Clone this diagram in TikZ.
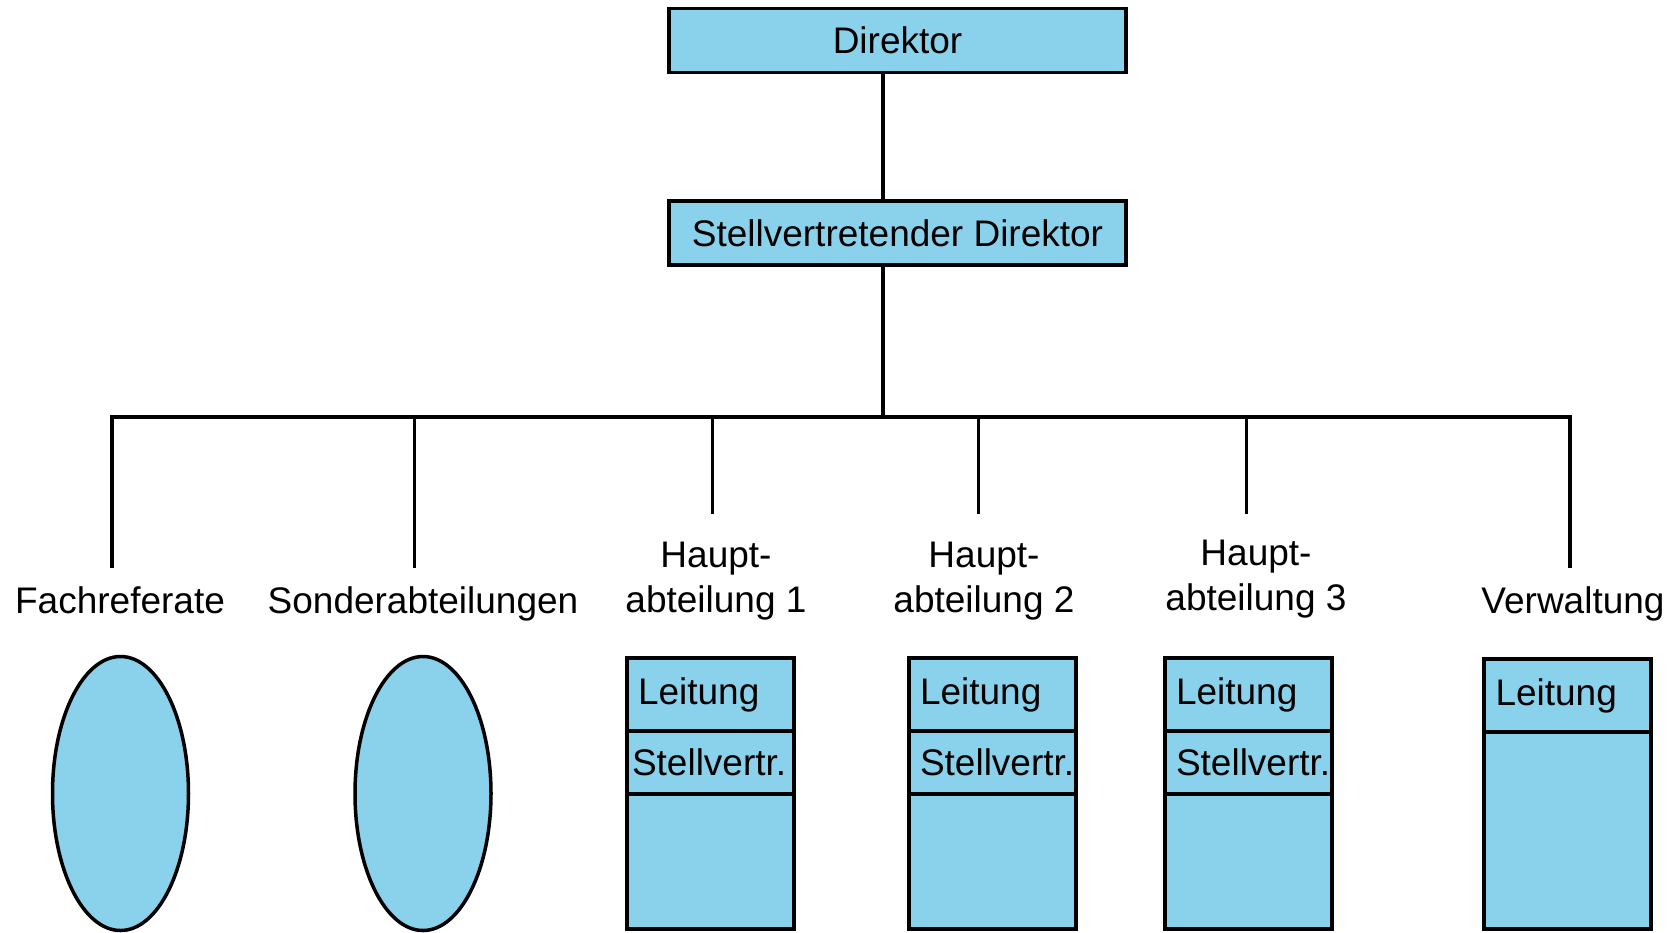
\documentclass[tikz,border=0pt]{standalone}
\usepackage{fontspec}
\setmainfont{Liberation Sans}
\usetikzlibrary{shapes.geometric}
\usetikzlibrary{positioning}
\definecolor{boxblue}{RGB}{138,210,235}
\tikzstyle{chart}=[x=1pt,y=-1pt,line width=3.5pt,font=\fontsize{37}{45}\selectfont]
\tikzstyle{topbox}=[draw,fill=boxblue,minimum width=457pt,minimum height=64pt,inner sep=0pt]
\tikzstyle{cell}=[draw,fill=boxblue,outer sep=0pt,inner ysep=0pt,align=left,minimum width=167pt]
\tikzstyle{unitoval}=[draw,fill=boxblue,ellipse,minimum width=136pt,minimum height=274pt,inner sep=0pt]
\tikzstyle{unitlabel}=[align=center,anchor=base,inner sep=0pt]
\newcommand{\deptbox}[4][11]{% [inset of Stellvertr.] name, x, y of top left corner
\pgfmathsetmacro{\tw}{167-2*#1}
  \node[cell,anchor=north west,minimum height=73pt,inner xsep=11pt,text width=145pt] (#2a) at (#3,#4) {Leitung};
  \node[cell,below=0pt of #2a,minimum height=63pt,inner xsep=#1pt,text width=\tw pt] (#2b) {Stellvertr.};
  \node[cell,below=0pt of #2b,minimum height=135pt] (#2c) {};
}

\begin{document}
\begin{tikzpicture}[chart]
  \useasboundingbox (0,0) rectangle (1675,932);
  % top of the chart
  \node[topbox] (dir) at (897.5,40.5) {Direktor};
  \node[topbox] (stv) at (897.5,233) {Stellvertretender Direktor};
  \coordinate (bus) at (883,417);
  \draw (dir.south -| bus) -- (stv.north -| bus);
  \draw (stv.south -| bus) -- (bus);
  % ends of the drops
  \coordinate (d1) at (112,568);
  \coordinate (d2) at (414.5,568);
  \coordinate (d3) at (712.5,514);
  \coordinate (d4) at (978.5,514);
  \coordinate (d5) at (1246.5,514);
  \coordinate (d6) at (1570,568);
  \draw (d1) -- (d1 |- bus) -- (d6 |- bus) -- (d6);
  \foreach \d in {d2,d3,d4,d5} {
    \draw (\d |- bus) -- (\d);
  }
  % unit names (base = last line)
  \node[unitlabel] (fach) at (120,613) {Fachreferate};
  \node[unitlabel] (sonder) at (423,613) {Sonderabteilungen};
  \node[unitlabel] (haupt1) at (716,612) {Haupt-\\abteilung 1};
  \node[unitlabel] (haupt2) at (984,612) {Haupt-\\abteilung 2};
  \node[unitlabel] (haupt3) at (1256,610) {Haupt-\\abteilung 3};
  \node[unitlabel] (verw) at (1573,613) {Verwaltung};
  % units
  \node[unitoval] (fachoval) at (120.5,793.5) {};
  \node[unitoval] (sonderoval) at (423,793.5) {};
  \deptbox[5]{h1}{627}{658}
  \deptbox{h2}{909}{658}
  \deptbox{h3}{1165}{658}
  \node[cell,anchor=north west,minimum height=73pt,inner xsep=11pt,text width=144pt] (va) at (1484,659) {Leitung};
  \node[cell,below=0pt of va,minimum height=197pt] (vb) {};
\end{tikzpicture}
\end{document}
